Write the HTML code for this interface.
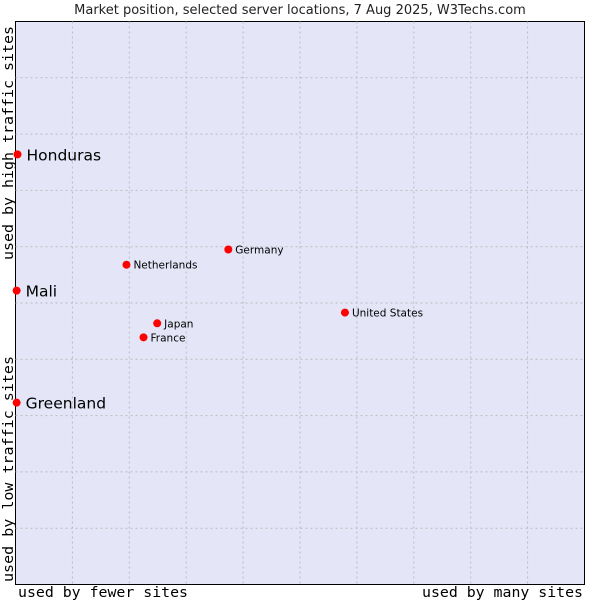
<!DOCTYPE html>
<html><head><meta charset="utf-8"><style>
body{margin:0;background:#fff;}
svg{display:block;}
</style></head><body>
<svg id="chart" width="600" height="600" xmlns="http://www.w3.org/2000/svg">
<rect x="0" y="0" width="600" height="600" fill="#fff"/>
<text x="300" y="14" text-anchor="middle" font-family="'DejaVu Sans',sans-serif" font-size="13" fill="#222">Market position, selected server locations, 7 Aug 2025, W3Techs.com</text>
<rect x="15.5" y="21.5" width="569" height="563" fill="#e4e6f8" stroke="#000" stroke-width="1"/>
<g id="grid"></g>
<text x="18" y="597" textLength="170" lengthAdjust="spacingAndGlyphs" font-family="'DejaVu Sans Mono','Liberation Mono',monospace" font-size="14.5" fill="#000">used by fewer sites</text>
<text x="422" y="597" textLength="161" lengthAdjust="spacingAndGlyphs" font-family="'DejaVu Sans Mono','Liberation Mono',monospace" font-size="14.5" fill="#000">used by many sites</text>
<text transform="translate(13,260) rotate(-90)" textLength="234" lengthAdjust="spacingAndGlyphs" font-family="'DejaVu Sans Mono','Liberation Mono',monospace" font-size="14.5" fill="#000">used by high traffic sites</text>
<text transform="translate(13,582) rotate(-90)" textLength="226" lengthAdjust="spacingAndGlyphs" font-family="'DejaVu Sans Mono','Liberation Mono',monospace" font-size="14.5" fill="#000">used by low traffic sites</text>
<g id="points"></g>
</svg>
<script>
const countries = ["Honduras","Mali","Greenland","Netherlands","Germany","Japan","France","United States"];
const xValues = [0.35,0.2,0.2,19.5,37.4,24.9,22.5,57.9];
const yValues = [76.4,52.2,32.3,56.8,59.5,46.4,43.9,48.3];
const bigLabel = [true,true,true,false,false,false,false,false];
const gridTicks = [1,2,3,4,5,6,7,8,9];

const X0=15.5,X1=584.5,Y0=584.5,Y1=21.5;
function xs(v){return X0+(X1-X0)*v/100;}
function ys(v){return Y0-(Y0-Y1)*v/100;}
const NS="http://www.w3.org/2000/svg";
const grid=document.getElementById('grid');
gridTicks.forEach(t=>{
  const v=document.createElementNS(NS,'line');
  v.setAttribute('x1',xs(t*10));v.setAttribute('x2',xs(t*10));
  v.setAttribute('y1',Y1);v.setAttribute('y2',Y0);
  v.setAttribute('stroke','#bbb');v.setAttribute('stroke-dasharray','2,3');
  
  
  grid.appendChild(v);
  const h=document.createElementNS(NS,'line');
  h.setAttribute('y1',ys(t*10));h.setAttribute('y2',ys(t*10));
  h.setAttribute('x1',X0);h.setAttribute('x2',X1);
  h.setAttribute('stroke','#bbb');h.setAttribute('stroke-dasharray','2,3');
  
  
  grid.appendChild(h);
});
const pts=document.getElementById('points');
countries.forEach((c,i)=>{
  const x=xs(xValues[i]),y=ys(yValues[i]);
  const d=document.createElementNS(NS,'circle');
  d.setAttribute('cx',x);d.setAttribute('cy',y);d.setAttribute('r',4);
  d.setAttribute('fill','#f00');
  
  
  pts.appendChild(d);
  const t=document.createElementNS(NS,'text');
  t.setAttribute('x',x+(bigLabel[i]?9:7));t.setAttribute('y',y+(bigLabel[i]?6:4));
  t.setAttribute('font-family',"'DejaVu Sans',sans-serif");
  t.setAttribute('font-size',bigLabel[i]?'15.5':'10.5');
  t.setAttribute('fill','#000');
  t.textContent=c;
  
  
  pts.appendChild(t);
});
</script>
</body></html>
